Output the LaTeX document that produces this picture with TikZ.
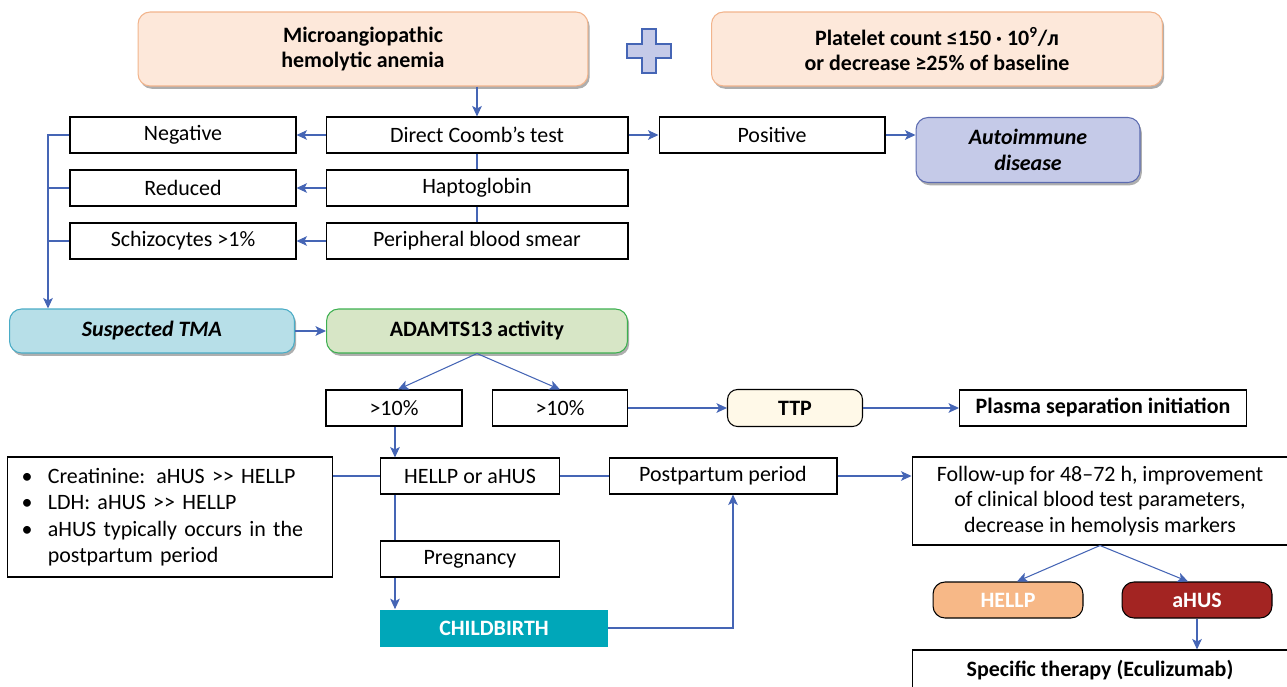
\documentclass[tikz,border=0pt]{standalone}
\usepackage{fontspec}
\setmainfont{Carlito}
\usepackage{tikz}
\usetikzlibrary{arrows.meta,shadows,calc,positioning}

\definecolor{linkblue}{HTML}{4565B5}
\definecolor{peach}{HTML}{FDE8DA}
\definecolor{peachline}{HTML}{F2B48C}
\definecolor{lavender}{HTML}{C5CAE8}
\definecolor{lavline}{HTML}{5C6BB0}
\definecolor{tmablue}{HTML}{B7DFE8}
\definecolor{tmaline}{HTML}{4AACC6}
\definecolor{adamgreen}{HTML}{D7E6C6}
\definecolor{adamline}{HTML}{3DB050}
\definecolor{cream}{HTML}{FFF9E8}
\definecolor{teal}{HTML}{00A7B9}
\definecolor{hellpor}{HTML}{F7B887}
\definecolor{ahusred}{HTML}{A32422}

\newcommand{\bitem}{\makebox[1.2em][l]{\textbullet}}
\newcommand{\bodyfont}{\fontsize{12.5}{14.5}\selectfont}

\begin{document}
\begin{tikzpicture}[x=0.02cm, y=-0.02cm, font=\bodyfont,
        line/.style={draw=linkblue, line width=0.6pt},
        arr/.style={line, -{Stealth[length=6pt,width=5.5pt,inset=1.5pt]}}]
      \tikzstyle{box} = [draw=black, line width=0.6pt, fill=white, minimum height=0.72cm, inner sep=2pt]
      \tikzstyle{pill} = [rounded corners=0.24cm, line width=0.6pt, minimum height=1.48cm, align=center,
        drop shadow={shadow xshift=1pt, shadow yshift=-1.6pt, opacity=0.45, fill=black!70}]
      \tikzstyle{tag} = [box, rounded corners=0.2cm, font=\bodyfont\bfseries]
      \useasboundingbox (0,0) rectangle (1287,686);

      % top row
      \node (maha) [pill, fill=peach, draw=peachline, minimum width=9cm, font=\bodyfont\bfseries]
        at (363,49) {Microangiopathic\\hemolytic anemia};
      \draw[fill=lavender, draw=linkblue, line width=0.6pt] (642,29) -- (656,29) -- (656,44) -- (671,44) -- (671,58)
        -- (656,58) -- (656,73) -- (642,73) -- (642,58) -- (627,58) -- (627,44) -- (642,44) -- cycle;
      \node (plat) [pill, fill=peach, draw=peachline, minimum width=9.02cm, font=\bodyfont\bfseries]
        at (937,49) {Platelet count ≤150 · 10\textsuperscript{9}/л\\or decrease ≥25\% of baseline};

      % tests
      \node (coomb) [box, minimum width=6.04cm] at (477,135) {Direct Coomb’s test};
      \node (hapto) [box, minimum width=6.04cm] at (477,188) {Haptoglobin};
      \node (perip) [box, minimum width=6.04cm] at (477,241) {Peripheral blood smear};
      \node (neg) [box, minimum width=4.52cm] at (183,135) {Negative};
      \node (red) [box, minimum width=4.52cm] at (183,188) {Reduced};
      \node (sch) [box, minimum width=4.52cm] at (183,241) {Schizocytes >1\%};
      \node (pos) [box, minimum width=4.52cm] at (772,135) {Positive};
      \node (auto) [pill, fill=lavender, draw=lavline, minimum width=4.48cm, minimum height=1.3cm,
        font=\bodyfont\bfseries\itshape] at (1028,150) {Autoimmune\\disease};

      % TMA
      \node (tma) [pill, fill=tmablue, draw=tmaline, minimum width=5.7cm, minimum height=0.88cm,
        font=\bodyfont\bfseries\itshape] at (152,331) {Suspected TMA};
      \node (adam) [pill, fill=adamgreen, draw=adamline, minimum width=6.02cm, minimum height=0.88cm,
        font=\bodyfont\bfseries] at (477,331) {ADAMTS13 activity};
      \node (gtA) [box, minimum width=2.72cm] at (394,408) {>10\%};
      \node (gtB) [box, minimum width=2.7cm] at (560,408) {>10\%};
      \node (ttp) [tag, fill=cream, minimum width=2.7cm, minimum height=0.74cm] at (795,408) {TTP};
      \node (plasma) [box, minimum width=5.74cm, font=\bodyfont\bfseries] at (1103,408)
        {Plasma separation initiation};

      % HELLP / aHUS
      \node (hellp) [box, minimum width=3.58cm] at (470,476) {HELLP or aHUS};
      \node (bul) [box, minimum width=6.5cm, minimum height=2.4cm, text width=5.94cm, align=left, inner xsep=0.28cm,
        font=\fontsize{12.5}{15}\selectfont]
        at (170,517) {\bitem Creatinine: aHUS >{}> HELLP\\\bitem LDH: aHUS >{}> HELLP\\
        \bitem aHUS typically occurs in the\\\hspace*{1.2em}postpartum period};
      \node (post) [box, minimum width=4.56cm] at (723,476) {Postpartum period};
      \node (fol) [box, minimum width=7.52cm, minimum height=1.76cm, align=center] at (1100,501)
        {Follow-up for 48–72 h, improvement\\of clinical blood test parameters,\\decrease in hemolysis markers};
      \node (preg) [box, minimum width=3.58cm] at (470,559) {Pregnancy};
      \node (birth) [fill=teal, text=white, minimum width=4.56cm, minimum height=0.74cm,
        font=\bodyfont\bfseries] at (494,628) {CHILDBIRTH};
      \node (hel2) [tag, fill=hellpor, text=white, rounded corners=0.24cm, minimum width=3cm] at (1008,600) {HELLP};
      \node (ahus) [tag, fill=ahusred, text=white, rounded corners=0.24cm, minimum width=3cm] at (1197,600) {aHUS};
      \node (spec) [box, minimum width=7.52cm, minimum height=0.8cm, font=\bodyfont\bfseries]
        at (1100,670) {Specific therapy (Eculizumab)};

      \coordinate (bus) at (48,135);
      \coordinate (hx) at ([xshift=0.3cm]hellp.north west);
      \coordinate (px) at ([xshift=0.2cm]post.south);

      \draw[arr] (maha.south -| coomb.north) -- (coomb.north);
      \draw[line] (coomb) -- (hapto) -- (perip);
      \draw[arr] (coomb) -- (neg);
      \draw[arr] (hapto) -- (red);
      \draw[arr] (perip) -- (sch);
      \draw[arr] (coomb) -- (pos);
      \draw[arr] (pos.east) -- (pos.east -| auto.west);
      \draw[arr] (neg.west) -- (bus) -- (bus |- tma.north);
      \draw[line] (red.west) -- (red.west -| bus);
      \draw[line] (sch.west) -- (sch.west -| bus);
      \draw[arr] (tma) -- (adam);
      \draw[arr] (adam.south) -- ([xshift=0.08cm]gtA.north);
      \draw[arr] (adam.south) -- (gtB.north);
      \draw[arr] (gtB) -- (ttp);
      \draw[arr] (ttp) -- (plasma);
      \draw[arr] (hx |- gtA.south) -- (hx);
      \draw[line] (hx |- hellp.south) -- (hx |- preg.north);
      \draw[arr] (hx |- preg.south) -- (hx |- birth.north);
      \draw[line] (bul.east |- hellp.west) -- (hellp.west);
      \draw[line] (hellp) -- (post);
      \draw[arr] (birth.east) -| (px);
      \draw[arr] (post.east) -- (post.east -| fol.west);
      \draw[arr] (fol.south) -- ([xshift=0.18cm]hel2.north);
      \draw[arr] (fol.south) -- ([xshift=-0.18cm]ahus.north);
      \draw[arr] (ahus.south) -- (ahus.south |- spec.north);
    \end{tikzpicture}
\end{document}
